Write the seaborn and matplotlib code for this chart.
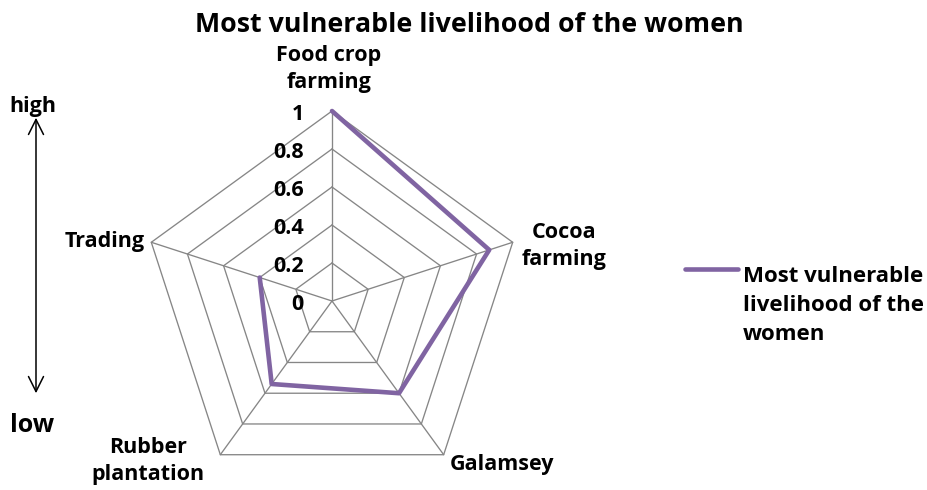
import numpy as np
import pandas as pd
import matplotlib
matplotlib.use("Agg")
import matplotlib.pyplot as plt
import seaborn as sns

# data
categories = ["Food crop\nfarming", "Cocoa\nfarming", "Galamsey", "Rubber\nplantation", "Trading"]
values = [1.0, 0.87, 0.6, 0.54, 0.4]
ticks = [0, 0.2, 0.4, 0.6, 0.8, 1.0]
tick_labels = ["0", "0.2", "0.4", "0.6", "0.8", "1"]
series_name = "Most vulnerable\nlivelihood of the\nwomen"
title = "Most vulnerable livelihood of the women"

sns.set_theme(style="white")
plt.rcParams['font.family'] = ['Open Sans', 'DejaVu Sans']
plt.rcParams['font.weight'] = 'bold'
plt.rcParams['text.color'] = 'black'

purple = "#8064A2"
grid_col = "#868686"

fig = plt.figure(figsize=(9.27, 4.90), dpi=100)
ax = fig.add_axes([0, 0, 1, 1])
ax.set_xlim(0, 927)
ax.set_ylim(490, 0)
ax.axis("off")

# radar geometry (pixel space of the axes)
cx, cy, R = 332, 301, 190
n = len(categories)
theta = np.deg2rad(90 - 72 * np.arange(n))

def to_xy(r):
    r = np.asarray(r, dtype=float)
    return cx + R * r * np.cos(theta), cy - R * r * np.sin(theta)

# grid pentagons
for t in ticks[1:]:
    gx, gy = to_xy(np.full(n, t))
    ax.plot(np.append(gx, gx[0]), np.append(gy, gy[0]), color=grid_col, lw=0.95, zorder=1)
# spokes
sx, sy = to_xy(np.ones(n))
for x1, y1 in zip(sx, sy):
    ax.plot([cx, x1], [cy, y1], color=grid_col, lw=0.95, zorder=1)

# series
px, py = to_xy(values)
df = pd.DataFrame({"x": np.append(px, px[0]), "y": np.append(py, py[0])})
sns.lineplot(data=df, x="x", y="y", sort=False, color=purple, lw=3.3, ax=ax,
             legend=False, zorder=3)

# radial tick labels
for t, lab in zip(ticks, tick_labels):
    ax.text(cx - 28, cy - R * t + 9, lab, ha="right", va="baseline", fontsize=15.5,
            fontweight="bold", color="black")

# category labels (y = baseline of last line)
label_pos = [(329, 88, "center"), (564, 265, "center"), (502, 470, "center"),
             (148, 480, "center"), (145, 247, "right")]
for (lx, ly, ha), lab in zip(label_pos, categories):
    ax.text(lx, ly, lab, ha=ha, va="baseline", fontsize=15.5, fontweight="bold",
            linespacing=1.4, color="black")

ax.text(469, 32, title, ha="center", va="baseline", fontsize=19.3, fontweight="bold", color="black")

# legend
ax.plot([685, 738], [269, 269], color=purple, lw=3.3, solid_capstyle="round")
ax.text(743, 340, series_name, ha="left", va="baseline", fontsize=16, fontweight="bold",
        linespacing=1.5, color="black")

# high / low arrow
ax.annotate("", xy=(36, 115), xytext=(36, 396),
            arrowprops=dict(arrowstyle="<->,head_length=0.9,head_width=0.45", color="black", lw=1.1))
ax.text(33, 112, "high", ha="center", va="baseline", fontsize=15.5, fontweight="bold", color="black")
ax.text(32, 432, "low", ha="center", va="baseline", fontsize=18, fontweight="bold", color="black")

fig.savefig("out.png", dpi=100)
